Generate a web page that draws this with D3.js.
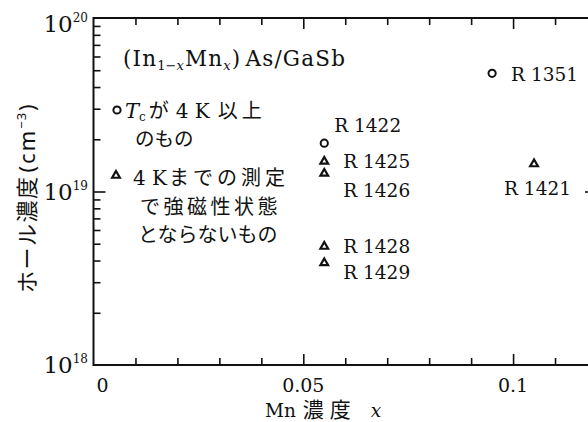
<!DOCTYPE html>
<html>
<head>
<meta charset="utf-8">
<script src="https://cdn.jsdelivr.net/npm/d3@7"></script>
<style>
  html, body { margin: 0; padding: 0; background: #fff; }
  svg { display: block; }
</style>
</head>
<body>
<svg id="chart" width="588" height="422"></svg>
<script>
// Samples: Mn content x and Hall concentration (cm^-3)
const sampleNames = ["R1351", "R1422", "R1425", "R1426", "R1421", "R1428", "R1429"];
const mnContent   = [0.095, 0.055, 0.055, 0.055, 0.105, 0.055, 0.055];
const hallConc    = [4.8e19, 1.9e19, 1.5e19, 1.28e19, 1.45e19, 4.85e18, 3.9e18];
// "tc" = Tc above 4 K (circle), "nf" = not ferromagnetic down to 4 K (triangle)
const sampleKind  = ["tc", "tc", "nf", "nf", "nf", "nf", "nf"];

const xTickValues = [0, 0.05, 0.1];
const xTickLabels = ["0", "0.05", "0.1"];
const yTickExps   = [18, 19, 20];

const SERIF = "'DejaVu Serif', 'Liberation Serif', serif";
const JP = "'Noto Sans CJK JP', 'Noto Sans CJK SC', sans-serif";
const SANS = "'Noto Sans', 'DejaVu Sans', sans-serif";

// label placement relative to each marker (dx, dy of baseline)
const labelOffset = {
  R1351: [19, 8], R1422: [10, -11], R1425: [19, 7], R1426: [19, 24],
  R1421: [-30, 31], R1428: [19, 7], R1429: [19, 17]
};

const svg = d3.select("#chart");
const W = 588;
const x = d3.scaleLinear().domain([0, 0.12]).range([93.5, 597]);
const y = d3.scaleLog().domain([1e18, 1e20]).range([365, 18]);

const ink = "#111";

// frame: left, bottom, top lines; right side lies just beyond the view
const frame = svg.append("g").attr("stroke", ink).attr("stroke-width", 2).attr("fill", "none");
frame.append("line").attr("x1", x(0)).attr("x2", x(0)).attr("y1", y(1e20) - 1).attr("y2", y(1e18) + 1);
frame.append("line").attr("x1", x(0)).attr("x2", W + 10).attr("y1", y(1e18)).attr("y2", y(1e18));
frame.append("line").attr("x1", x(0)).attr("x2", W + 10).attr("y1", y(1e20)).attr("y2", y(1e20));
frame.append("line").attr("x1", x(0.12)).attr("x2", x(0.12)).attr("y1", y(1e20)).attr("y2", y(1e18));

// x ticks (bottom and top, pointing inward)
const xMinor = d3.range(1, 12).map(i => i * 0.01);
const isMajorX = d => Math.abs(d - 0.05) < 1e-9 || Math.abs(d - 0.1) < 1e-9;
function styleAxis(g) {
  g.select(".domain").remove();
  g.selectAll(".tick line").attr("stroke", ink).attr("stroke-width", 1.6);
}
const gb = svg.append("g").attr("transform", `translate(0,${y(1e18)})`)
  .call(d3.axisBottom(x).tickValues(xMinor).tickSize(-7).tickFormat("")).call(styleAxis);
const gt = svg.append("g").attr("transform", `translate(0,${y(1e20)})`)
  .call(d3.axisTop(x).tickValues(xMinor).tickSize(-7).tickFormat("")).call(styleAxis);
gb.selectAll(".tick").filter(isMajorX).select("line").attr("y2", -11);
gt.selectAll(".tick").filter(isMajorX).select("line").attr("y2", 11);

// y ticks (left and right, pointing inward)
const yMinor = [];
[18, 19].forEach(e => { for (let m = 2; m <= 9; m++) yMinor.push(m * Math.pow(10, e)); });
yMinor.push(1e19);
const gl = svg.append("g").attr("transform", `translate(${x(0)},0)`)
  .call(d3.axisLeft(y).tickValues(yMinor).tickSize(-7).tickFormat("")).call(styleAxis);
const gr = svg.append("g").attr("transform", `translate(${x(0.12)},0)`)
  .call(d3.axisRight(y).tickValues(yMinor).tickSize(-7).tickFormat("")).call(styleAxis);
gl.selectAll(".tick").filter(d => d === 1e19).select("line").attr("x2", 12);
gr.selectAll(".tick").filter(d => d === 1e19).select("line").attr("x2", -12);

// y tick labels 10^n (the top one sits a little lower, inside the view)
yTickExps.forEach(e => {
  const base = e === 20 ? 32 : y(Math.pow(10, e)) + 8;
  const t = svg.append("text").attr("font-family", SERIF).attr("fill", ink)
    .attr("x", 88).attr("y", base).attr("text-anchor", "end")
    .attr("font-size", 23);
  t.append("tspan").text("10");
  t.append("tspan").attr("dy", -10).attr("font-size", 12).text(String(e));
});

// x tick labels
xTickValues.forEach((v, i) => {
  svg.append("text").attr("font-family", SERIF).attr("fill", ink)
    .attr("x", x(v) + (v === 0 ? 9 : 0)).attr("y", 392).attr("text-anchor", "middle")
    .attr("font-size", 19).text(xTickLabels[i]);
});

// x axis title
const xt = svg.append("text").attr("x", 265).attr("y", 417).attr("fill", ink).attr("font-size", 18.5);
xt.append("tspan").attr("font-family", SERIF).text("Mn");
xt.append("tspan").attr("font-family", JP).attr("font-size", 21).attr("dx", 7).attr("letter-spacing", 6).text("濃度");
xt.append("tspan").attr("font-family", SERIF).attr("font-style", "italic").attr("dx", 14).text("x");

// y axis title (reads bottom to top)
const yt = svg.append("text").attr("transform", "translate(35,293) rotate(-90)")
  .attr("fill", ink).attr("font-size", 22);
yt.append("tspan").attr("font-family", JP).attr("letter-spacing", 1.5).text("ホール濃度");
yt.append("tspan").attr("font-family", SANS).attr("dx", 3).attr("letter-spacing", 2).text("(cm");
yt.append("tspan").attr("font-family", SANS).attr("font-size", 13).attr("dy", -9).attr("letter-spacing", 1).text("−3");
yt.append("tspan").attr("font-family", SANS).attr("dy", 9).attr("dx", 1).text(")");

// marker shapes
const tri = d3.symbol().type(d3.symbolTriangle).size(26);
function drawMarker(g, kind, cx, cy) {
  if (kind === "tc") {
    g.append("circle").attr("cx", cx).attr("cy", cy).attr("r", 3.6)
      .attr("fill", "none").attr("stroke", ink).attr("stroke-width", 2);
  } else {
    g.append("path").attr("d", tri()).attr("transform", `translate(${cx},${cy + 0.5})`)
      .attr("fill", "none").attr("stroke", ink).attr("stroke-width", 2.2);
  }
}

// data points and their labels
const pts = svg.append("g");
sampleNames.forEach((name, i) => {
  const cx = x(mnContent[i]), cy = y(hallConc[i]);
  drawMarker(pts, sampleKind[i], cx, cy);
  const [dx, dy] = labelOffset[name];
  pts.append("text").attr("font-family", SERIF).attr("fill", ink).attr("font-size", 18.5)
    .attr("x", cx + dx).attr("y", cy + dy)
    .text(name.replace("R", "R "));
});

// title and legend
const title = svg.append("text").attr("font-family", SERIF).attr("fill", ink)
  .attr("x", 123).attr("y", 66).attr("font-size", 21.5).attr("letter-spacing", 1.2);
title.append("tspan").text("(In");
title.append("tspan").attr("font-size", 13).attr("dy", 4).attr("letter-spacing", 0).text("1−");
title.append("tspan").attr("font-size", 13).attr("font-style", "italic").text("x");
title.append("tspan").attr("dy", -4).text("Mn");
title.append("tspan").attr("font-size", 13).attr("font-style", "italic").attr("dy", 4).text("x");
title.append("tspan").attr("dy", -4).text(")");
title.append("tspan").attr("dx", 4).text("As/GaSb");

const leg = svg.append("g");
drawMarker(leg, "tc", 117, 110);
const l1 = leg.append("text").attr("x", 125).attr("y", 118).attr("fill", ink).attr("font-size", 21);
l1.append("tspan").attr("font-family", SERIF).attr("font-style", "italic").text("T");
l1.append("tspan").attr("font-family", SERIF).attr("font-size", 12).attr("dy", 3).text("c");
l1.append("tspan").attr("font-family", JP).attr("font-size", 20).attr("dy", -3).attr("dx", 3).text("が");
l1.append("tspan").attr("font-family", SERIF).attr("font-size", 20).attr("dx", 7).text("4 K");
l1.append("tspan").attr("font-family", JP).attr("font-size", 20).attr("dx", 8).attr("letter-spacing", 4).text("以上");
leg.append("text").attr("font-family", JP).attr("x", 135).attr("y", 146).attr("fill", ink)
  .attr("font-size", 19.5).text("のもの");

drawMarker(leg, "nf", 116, 175);
const l2 = leg.append("text").attr("x", 133).attr("y", 185).attr("fill", ink).attr("font-size", 20);
l2.append("tspan").attr("font-family", SERIF).text("4 K");
l2.append("tspan").attr("font-family", JP).attr("dx", 2).attr("letter-spacing", 4).text("までの測定");
leg.append("text").attr("font-family", JP).attr("x", 140).attr("y", 214).attr("fill", ink)
  .attr("font-size", 20).attr("letter-spacing", 3.5).text("で強磁性状態");
leg.append("text").attr("font-family", JP).attr("x", 138).attr("y", 242).attr("fill", ink)
  .attr("font-size", 20).text("とならないもの");
</script>
</body>
</html>
